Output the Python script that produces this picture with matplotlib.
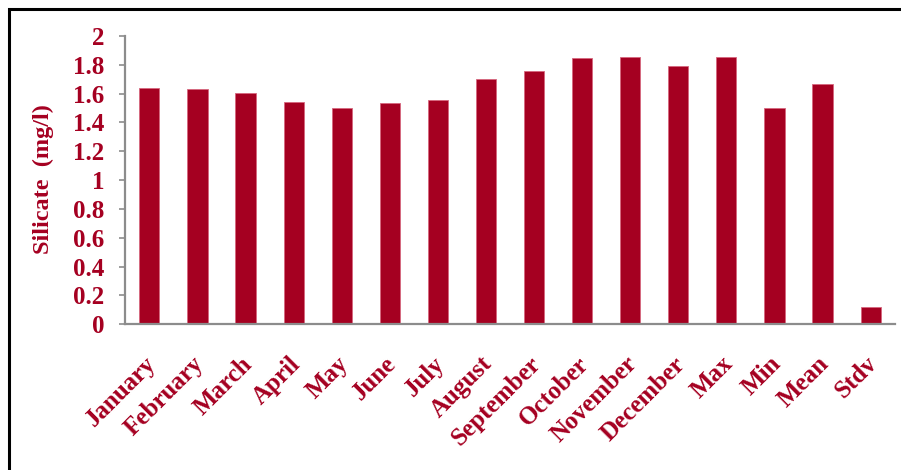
import matplotlib
matplotlib.use("Agg")
import matplotlib.pyplot as plt
from matplotlib.patches import Rectangle
from matplotlib.transforms import ScaledTranslation

categories = ["January", "February", "March", "April", "May", "June", "July",
              "August", "September", "October", "November", "December",
              "Max", "Min", "Mean", "Stdv"]
silicate = [1.64, 1.63, 1.605, 1.545, 1.50, 1.535, 1.555,
            1.70, 1.76, 1.845, 1.855, 1.795,
            1.855, 1.50, 1.665, 0.123]
y_ticks = [0, 0.2, 0.4, 0.6, 0.8, 1, 1.2, 1.4, 1.6, 1.8, 2]
y_tick_labels = ["0", "0.2", "0.4", "0.6", "0.8", "1", "1.2", "1.4", "1.6", "1.8", "2"]

RED = "#A50021"
GREY = "#8C8C8C"
W, H = 901, 470

plt.rcParams["font.family"] = ["Liberation Serif", "DejaVu Serif"]
plt.rcParams["font.weight"] = "bold"

fig = plt.figure(figsize=(W / 100, H / 100), dpi=100)
ax = fig.add_axes([125.3 / W, (H - 324.3) / H, (894.7 - 125.3) / W, (324.3 - 36) / H])

x = range(len(categories))
ax.bar(x, silicate, width=0.42, color=RED, edgecolor="#D6667E", linewidth=0.6, zorder=2)

ax.set_xlim(-0.5, len(categories) - 0.5)
ax.set_ylim(0, 2)
ax.set_yticks(y_ticks)
ax.set_yticklabels(y_tick_labels)
ax.set_xticks(list(x))
ax.set_xticklabels(categories, rotation=45, ha="right", va="center",
                   rotation_mode="anchor")

for side in ("top", "right"):
    ax.spines[side].set_visible(False)
for side in ("left", "bottom"):
    ax.spines[side].set_color(GREY)
    ax.spines[side].set_linewidth(1.6)

ax.tick_params(axis="y", direction="out", length=4, width=1.2, color=GREY,
               pad=11, labelsize=18, labelcolor=RED)
ax.tick_params(axis="x", length=0, pad=26, labelsize=18, labelcolor=RED)
shift = ScaledTranslation(3 / 100, 0, fig.dpi_scale_trans)
for lbl in ax.get_xticklabels():
    lbl.set_transform(lbl.get_transform() + shift)
for lbl in ax.get_xticklabels() + ax.get_yticklabels():
    lbl.set_fontweight("bold")

fig.text(43 / W, 1 - 179 / H, "Silicate  (mg/l)", rotation=90, ha="center",
         va="center", fontsize=17.5, fontweight="bold", color=RED)

# frame around the chart area
fig.patches.append(Rectangle((9 / W, -0.2), 1.2, 1.2 - 9 / H,
                             transform=fig.transFigure, fill=False,
                             edgecolor="black", linewidth=2.2))

fig.savefig("out.png", dpi=100)
